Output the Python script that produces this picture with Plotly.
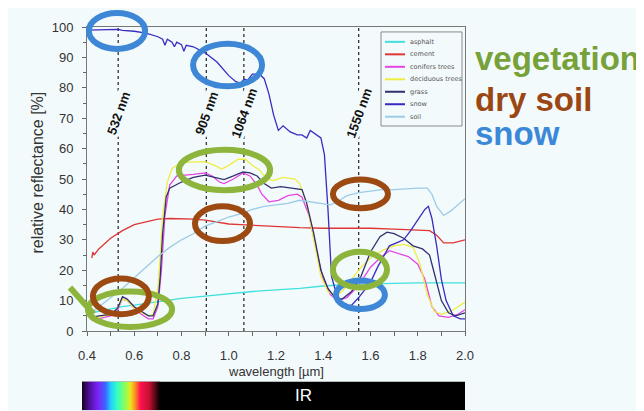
import base64
import plotly.graph_objects as go

# ---------------- data ----------------
asphalt_x = [0.42, 0.45, 0.50, 0.55, 0.60, 0.70, 0.80, 0.90, 1.00, 1.10, 1.20, 1.30, 1.40, 1.50, 1.60, 1.70, 1.80, 1.90, 2.00]
asphalt_y = [6.0, 6.5, 7.3, 8.0, 8.5, 9.6, 10.7, 11.5, 12.3, 13.0, 13.5, 14.0, 14.8, 15.3, 15.5, 15.7, 15.8, 15.8, 15.8]

cement_x = [0.42, 0.425, 0.43, 0.45, 0.50, 0.55, 0.60, 0.65, 0.70, 0.75, 0.80, 0.85, 0.90, 0.95, 1.00, 1.05, 1.10, 1.15,
            1.20, 1.30, 1.40, 1.50, 1.60, 1.70, 1.80, 1.85, 1.88, 1.91, 1.95, 2.00]
cement_y = [24.0, 26.0, 25.0, 27.0, 30.5, 33.0, 35.0, 36.0, 36.8, 37.0, 37.0, 36.8, 36.5, 35.8, 35.2, 35.0, 34.8, 34.5,
            34.5, 34.0, 33.8, 33.8, 33.8, 33.5, 33.2, 33.0, 31.5, 29.0, 29.0, 30.0]

conifers_x = [0.42, 0.45, 0.50, 0.53, 0.55, 0.57, 0.60, 0.63, 0.66, 0.68, 0.70, 0.715, 0.73, 0.75, 0.78, 0.85, 0.90, 0.93,
              0.96, 0.98, 1.02, 1.06, 1.09, 1.12, 1.14, 1.17, 1.21, 1.25, 1.29, 1.31, 1.34, 1.37, 1.40, 1.43, 1.46, 1.50,
              1.55, 1.60, 1.64, 1.68, 1.72, 1.76, 1.80, 1.83, 1.86, 1.89, 1.93, 1.97, 2.00]
conifers_y = [3.5, 4.0, 5.0, 7.0, 10.5, 10.0, 7.5, 5.5, 4.0, 4.0, 8.0, 20.0, 38.0, 48.0, 51.0, 51.5, 52.0, 51.0,
              49.0, 48.5, 50.0, 52.0, 51.0, 48.0, 45.0, 42.5, 43.0, 44.5, 45.0, 44.0, 38.0, 27.0, 17.0, 12.0, 10.0, 11.0,
              15.0, 21.0, 24.0, 26.4, 25.5, 24.5, 22.0, 17.0, 8.0, 5.0, 4.5, 5.5, 7.0]

deciduous_x = [0.42, 0.45, 0.50, 0.53, 0.55, 0.57, 0.60, 0.63, 0.66, 0.68, 0.70, 0.71, 0.72, 0.74, 0.76, 0.80, 0.85, 0.90,
               0.94, 0.97, 1.00, 1.04, 1.07, 1.10, 1.13, 1.16, 1.19, 1.23, 1.28, 1.30, 1.33, 1.36, 1.39, 1.42, 1.45, 1.48,
               1.52, 1.56, 1.60, 1.65, 1.70, 1.74, 1.78, 1.81, 1.84, 1.87, 1.90, 1.94, 1.97, 2.00]
deciduous_y = [4.0, 4.5, 5.5, 7.5, 10.5, 10.0, 7.5, 6.0, 5.0, 5.5, 14.0, 25.0, 38.0, 49.0, 53.5, 55.5, 55.5, 55.7,
               54.5, 53.3, 54.5, 56.5, 56.5, 54.5, 53.0, 50.0, 49.5, 50.5, 50.0, 48.5, 42.0, 30.0, 18.0, 13.0, 11.5, 13.0,
               17.0, 21.0, 24.0, 26.5, 28.0, 28.5, 27.5, 22.0, 12.0, 6.5, 5.5, 6.5, 8.0, 9.5]

grass_x = [0.42, 0.45, 0.50, 0.53, 0.55, 0.57, 0.60, 0.63, 0.66, 0.68, 0.70, 0.71, 0.72, 0.735, 0.75, 0.80, 0.85, 0.90,
           0.95, 0.98, 1.02, 1.06, 1.09, 1.12, 1.15, 1.18, 1.22, 1.27, 1.31, 1.33, 1.36, 1.39, 1.42, 1.45, 1.48, 1.52,
           1.56, 1.60, 1.64, 1.67, 1.70, 1.74, 1.78, 1.82, 1.85, 1.87, 1.90, 1.93, 1.96, 2.00]
grass_y = [4.5, 5.0, 5.5, 7.5, 11.3, 10.5, 8.0, 6.5, 5.0, 5.0, 9.0, 18.0, 32.0, 44.0, 47.0, 49.0, 50.5, 51.3,
           50.5, 49.8, 51.0, 52.3, 52.0, 51.0, 48.5, 47.0, 47.5, 47.0, 46.5, 42.0, 32.0, 20.0, 14.0, 11.0, 10.5, 13.0,
           18.0, 26.0, 31.0, 32.5, 32.0, 30.5, 28.0, 27.0, 25.0, 19.0, 10.0, 6.0, 5.0, 6.0]

snow_x = [0.40, 0.45, 0.50, 0.532, 0.55, 0.60, 0.65, 0.70, 0.72, 0.73, 0.74, 0.76, 0.77, 0.78, 0.80, 0.81, 0.82, 0.85,
          0.90, 0.95, 1.00, 1.03, 1.05, 1.065, 1.08, 1.10, 1.13, 1.15, 1.17, 1.19, 1.21, 1.23, 1.26, 1.29, 1.31, 1.33,
          1.345, 1.37, 1.39, 1.405, 1.42, 1.435, 1.46, 1.49, 1.52, 1.55, 1.58, 1.60, 1.63, 1.65, 1.68, 1.71, 1.74,
          1.77, 1.80, 1.83, 1.845, 1.86, 1.88, 1.90, 1.92, 1.95, 1.98, 2.00]
snow_y = [99.0, 99.0, 99.0, 99.2, 98.9, 98.6, 98.0, 96.8, 96.0, 94.0, 96.0, 95.0, 93.5, 95.0, 94.2, 92.0, 94.0, 93.5,
          91.5, 88.5, 84.0, 82.0, 81.5, 82.8, 82.5, 84.5, 84.5, 83.0, 78.0, 71.0, 66.0, 67.5, 65.5, 64.5, 64.5, 63.5,
          66.0, 64.5, 63.5, 58.0, 40.0, 18.0, 11.0, 8.0, 8.5, 11.0, 14.0, 16.0, 21.0, 24.0, 28.0, 29.0, 30.0,
          33.0, 36.5, 40.0, 41.0, 37.0, 28.0, 17.0, 10.0, 5.0, 4.0, 4.0]

soil_x = [0.41, 0.45, 0.50, 0.55, 0.60, 0.65, 0.70, 0.75, 0.80, 0.85, 0.90, 0.95, 1.00, 1.05, 1.10, 1.15, 1.20, 1.25,
          1.30, 1.35, 1.40, 1.43, 1.47, 1.50, 1.55, 1.60, 1.65, 1.70, 1.75, 1.80, 1.84, 1.86, 1.88, 1.91, 1.94, 1.97, 2.00]
soil_y = [5.5, 8.0, 11.0, 14.0, 17.5, 21.0, 24.5, 27.5, 30.0, 32.0, 34.5, 36.0, 37.5, 38.5, 40.0, 41.0, 41.5, 42.0,
          43.0, 42.5, 42.0, 41.5, 43.0, 44.5, 45.5, 46.0, 46.5, 46.5, 46.8, 47.0, 47.0, 45.0, 41.0, 38.0, 39.5, 41.5, 43.5]

series_names = ["asphalt", "cement", "conifers trees", "deciduous trees", "grass", "snow", "soil"]
series_x = [asphalt_x, cement_x, conifers_x, deciduous_x, grass_x, snow_x, soil_x]
series_y = [asphalt_y, cement_y, conifers_y, deciduous_y, grass_y, snow_y, soil_y]
series_colors = ["#3fe0df", "#e03535", "#e545e5", "#eeee40", "#31316f", "#3a2bc0", "#9ccbe8"]

laser_lines = [0.532, 0.905, 1.064, 1.55]
laser_labels = ["532 nm", "905 nm", "1064 nm", "1550 nm"]

x_ticks = [0.4, 0.6, 0.8, 1.0, 1.2, 1.4, 1.6, 1.8, 2.0]
y_ticks = [0, 10, 20, 30, 40, 50, 60, 70, 80, 90, 100]

BG = "#f3fafc"
XR = (0.4, 2.0)
YR = (0, 100)

# the page body adds an 8px offset; plot area should sit at x 87..465, y 24..331 of the window
OFF = 8
PL, PT, PW, PH = 87 - OFF, 24 - OFF, 378, 307
FW, FH = 644 - OFF, 411 - OFF


def px(x):
    return (x - XR[0]) / (XR[1] - XR[0])


def py(y):
    return (y - YR[0]) / (YR[1] - YR[0])


def wx(p):  # window pixel x -> paper
    return (p - 87) / PW


def wy(p):  # window pixel y -> paper
    return (331 - p) / PH


fig = go.Figure()
for name, xs, ys, col in zip(series_names, series_x, series_y, series_colors):
    fig.add_trace(go.Scatter(x=xs, y=ys, mode="lines", name=name, showlegend=False,
                             line=dict(color=col, width=1.3)))

shapes = []
annotations = []

# dotted laser wavelength lines + labels
for xv, lab in zip(laser_lines, laser_labels):
    shapes.append(dict(type="line", xref="x", yref="paper", x0=xv, x1=xv, y0=0, y1=1,
                       line=dict(color="#222222", width=1.2, dash="dot"), layer="below"))
    annotations.append(dict(x=xv, y=wy(111), xref="x", yref="paper", text=lab, showarrow=False,
                            xanchor="center", yanchor="middle",
                            textangle=-70, bgcolor=BG, borderpad=0,
                            font=dict(family="Liberation Sans", size=13, color="#111111", weight="bold")))

# highlight ellipses (data units: x in µm, y in %)
ell_blue = [(0.408, 0.646, 92.8, 104.6), (0.849, 1.141, 80.5, 94.5), (1.454, 1.661, 7.2, 16.6)]
ell_green = [(0.789, 1.175, 46.3, 59.6), (1.441, 1.670, 14.3, 26.1), (0.404, 0.760, 1.3, 13.0)]
ell_brown = [(0.425, 0.662, 5.5, 17.3), (0.857, 1.090, 29.6, 41.0), (1.441, 1.674, 40.4, 49.8)]
for group, col in ((ell_blue, "#3d87d6"), (ell_green, "#8db53c"), (ell_brown, "#9c4a12")):
    for (a, b, c, d) in group:
        shapes.append(dict(type="circle", xref="paper", yref="paper", x0=px(a), x1=px(b), y0=py(c), y1=py(d),
                           line=dict(color=col, width=6), layer="above"))
# green check stroke
shapes.append(dict(type="line", xref="paper", yref="paper", x0=px(0.328), y0=py(14.3), x1=px(0.428), y1=py(5.6),
                   line=dict(color="#8db53c", width=6), layer="above"))

# manual legend
shapes.append(dict(type="rect", xref="paper", yref="paper", x0=wx(381), x1=wx(462), y0=wy(124), y1=wy(29),
                   line=dict(color="#8a8a8a", width=1), fillcolor="rgba(0,0,0,0)"))
for i, (name, col) in enumerate(zip(series_names, series_colors)):
    yy = wy(39 + 12.6 * i)
    shapes.append(dict(type="line", xref="paper", yref="paper", x0=wx(385), x1=wx(405),
                       y0=yy, y1=yy, line=dict(color=col, width=2)))
    annotations.append(dict(x=wx(408), y=yy, xref="paper", yref="paper", text=name, showarrow=False,
                            xanchor="left", yanchor="middle",
                            font=dict(family="DejaVu Sans", size=6.5, color="#555555")))

# right side category labels
for txt, col, ycen in (("vegetation", "#77a23a", 56), ("dry soil", "#9b4714", 97), ("snow", "#3b88d8", 132)):
    annotations.append(dict(x=wx(473), y=wy(ycen), xref="paper", yref="paper", text=txt,
                            showarrow=False, xanchor="left", yanchor="middle",
                            font=dict(family="Liberation Sans", size=33, color=col, weight="bold")))

# axis titles
annotations.append(dict(x=0.5, y=wy(372), xref="paper", yref="paper", text="wavelength [µm]",
                        showarrow=False, xanchor="center", yanchor="middle",
                        font=dict(family="Liberation Sans", size=13, color="#333333")))
annotations.append(dict(x=wx(38), y=wy(171), xref="paper", yref="paper",
                        text="relative reflectance [%]", showarrow=False, textangle=-90,
                        xanchor="center", yanchor="middle",
                        font=dict(family="Liberation Sans", size=16, color="#333333")))

# spectrum bar
spectrum_stops = [0.0, 0.1, 0.2, 0.3, 0.37, 0.45, 0.55, 0.62, 0.68, 0.75, 0.86, 1.0]
spectrum_colors = ["#1a001a", "#5010a0", "#7a22f5", "#3c64ff", "#22cfff", "#33ffc4", "#88ff5c",
                   "#e8e820", "#ff9020", "#ff1050", "#c81030", "#000000"]
stops = "".join(f'<stop offset="{o}" stop-color="{c}"/>' for o, c in zip(spectrum_stops, spectrum_colors))
svg = ('<svg xmlns="http://www.w3.org/2000/svg" width="383" height="29" viewBox="0 0 383 29" '
       'preserveAspectRatio="none"><defs><linearGradient id="g" x1="0" x2="1" y1="0" y2="0">'
       f'{stops}</linearGradient></defs><rect width="383" height="29" fill="#000"/>'
       '<rect width="78" height="29" fill="url(#g)"/></svg>')
src = "data:image/svg+xml;base64," + base64.b64encode(svg.encode()).decode()
images = [dict(source=src, xref="paper", yref="paper", x=wx(82), y=wy(382),
               sizex=383 / PW, sizey=29 / PH, xanchor="left", yanchor="top", sizing="stretch", layer="above")]
annotations.append(dict(x=wx(303), y=wy(396), xref="paper", yref="paper", text="IR",
                        showarrow=False, xanchor="center", yanchor="middle",
                        font=dict(family="Liberation Sans", size=17, color="#ffffff")))

fig.update_layout(
    width=FW, height=FH,
    margin=dict(l=PL, r=FW - PL - PW, t=PT, b=FH - PT - PH),
    paper_bgcolor=BG, plot_bgcolor=BG,
    showlegend=False,
    shapes=shapes, annotations=annotations, images=images,
    font=dict(family="Liberation Sans", color="#333333"),
)
fig.update_xaxes(range=list(XR), tickvals=x_ticks, ticktext=[f"{v:.1f}" for v in x_ticks],
                 showgrid=False, zeroline=False, showline=True, linecolor="#777777", linewidth=1, mirror=True,
                 ticks="outside", ticklen=4, tickcolor="#666666", ticklabelstandoff=8,
                 minor=dict(dtick=0.1, tick0=0.4, ticks="outside", ticklen=4, tickcolor="#666666"),
                 tickfont=dict(size=13, color="#333333"))
fig.update_yaxes(range=list(YR), tickvals=y_ticks, showgrid=False, zeroline=False, showline=True,
                 linecolor="#777777", linewidth=1, mirror=True,
                 ticks="outside", ticklen=4, tickcolor="#666666", ticklabelstandoff=6,
                 minor=dict(dtick=5, tick0=0, ticks="outside", ticklen=3, tickcolor="#666666"),
                 tickfont=dict(size=13, color="#333333"))

fig.write_html("out.html")
